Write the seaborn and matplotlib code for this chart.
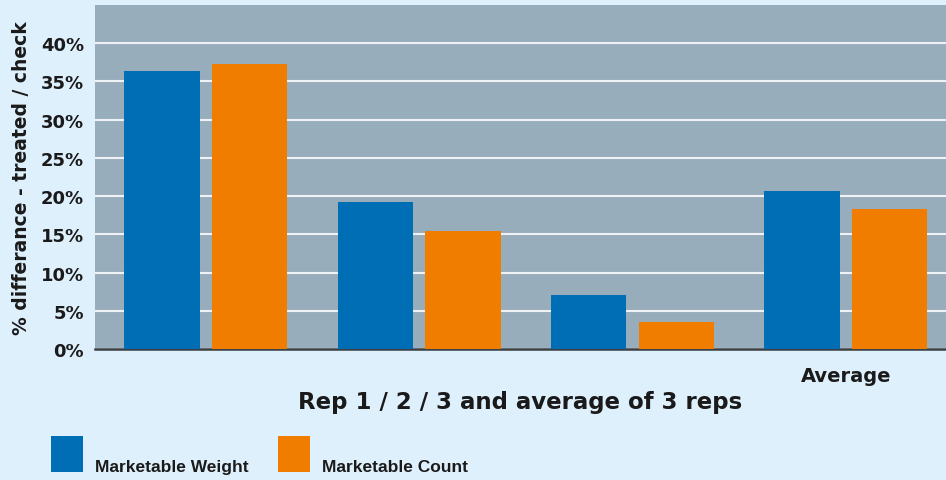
import numpy as np
import pandas as pd
import matplotlib.pyplot as plt
import seaborn as sns
from matplotlib.patches import Rectangle
from matplotlib.ticker import PercentFormatter

# ------------------------------------
# data
# -------------------

categories = ["Rep 1", "Rep 2", "Rep 3", "Average"]
tick_labels = ["", "", "", "Average"]
series_names = ["Marketable Weight", "Marketable Count"]
marketable_weight = [36.4, 19.2, 7.1, 20.7]
marketable_count = [37.3, 15.5, 3.5, 18.3]
y_ticks = [0, 5, 10, 15, 20, 25, 30, 35, 40]

colors = ["#006eb4", "#f07d00"]
bg_color = "#dff0fd"
plot_bg = "#98adbc"
text_color = "#1a1a1a"

df = pd.DataFrame({
    "rep": categories * 2,
    "series": [series_names[0]] * 4 + [series_names[1]] * 4,
    "value": marketable_weight + marketable_count,
})

sns.set_style("white")
plt.rcParams["font.family"] = ["DejaVu Sans"]

W, H = 946, 481
fig = plt.figure(figsize=(W / 100, H / 100), dpi=100, facecolor=bg_color)
ax = fig.add_axes([95 / W, 1 - 350 / H, 1 - 95 / W, 344 / H])
ax.set_facecolor(plot_bg)

sns.barplot(data=df, x="rep", y="value", hue="series", order=categories,
            hue_order=series_names, palette=colors, width=0.822, gap=0.139,
            saturation=1, linewidth=0, ax=ax, legend=False, zorder=3)

ax.set_xlim(-0.52, 3.47)
ax.set_ylim(0, 45)
ax.set_yticks(y_ticks)
ax.yaxis.set_major_formatter(PercentFormatter(decimals=0))
ax.grid(axis="y", color="#eef2f5", linewidth=1.5, zorder=0)
ax.set_axisbelow(True)

ax.set_xticks(range(len(categories)))
ax.set_xticklabels(tick_labels, fontsize=14, fontweight="bold", color=text_color)
ax.tick_params(axis="both", length=0)
ax.tick_params(axis="y", pad=8, labelsize=13, labelcolor=text_color)
ax.tick_params(axis="x", pad=12)
for lbl in ax.get_yticklabels():
    lbl.set_fontweight("bold")

for side in ["top", "right", "left"]:
    ax.spines[side].set_visible(False)
ax.spines["bottom"].set_color("#3a3f44")
ax.spines["bottom"].set_linewidth(1.8)

ax.set_ylabel("% differance - treated / check", fontsize=13.5, fontweight="bold",
              color=text_color, labelpad=7)
ax.set_xlabel("Rep 1 / 2 / 3 and average of 3 reps", fontsize=16.5, fontweight="bold",
              color=text_color, labelpad=4)

# legend: square swatches with the label sitting on the swatch baseline
legend_x = [51, 278]
for name, color, x0 in zip(series_names, colors, legend_x):
    fig.add_artist(Rectangle((x0 / W, 1 - 473 / H), 32 / W, 36 / H,
                             transform=fig.transFigure, facecolor=color,
                             edgecolor="none"))
    fig.text((x0 + 44) / W, 1 - 472 / H, name, ha="left", va="baseline",
             fontsize=12.5, fontweight="bold", color=text_color,
             family=["Liberation Sans", "DejaVu Sans"])

fig.savefig("out.png", dpi=100, facecolor=bg_color)
